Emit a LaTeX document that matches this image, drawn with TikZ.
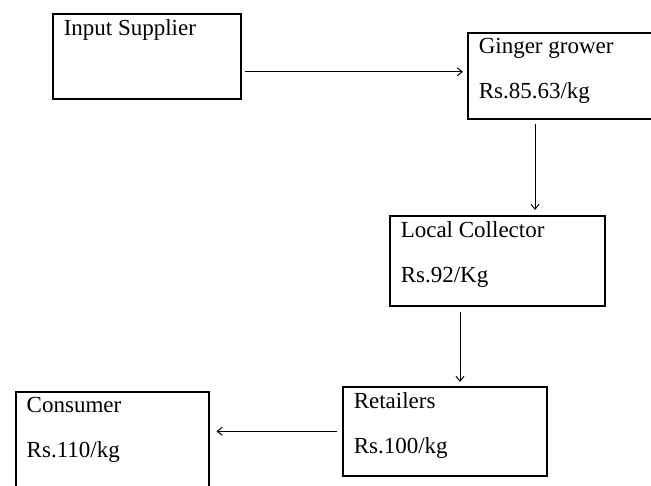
\documentclass[tikz,border=0pt]{standalone}
\usepackage{fontspec}
\setmainfont{Liberation Serif}
\usetikzlibrary{arrows.meta,positioning,calc}

\newcommand{\stagetext}[3]{\parbox[t][#1][t]{#2}{#3}}

\begin{document}
\begin{tikzpicture}[x=1pt,y=-1pt,
    stage/.style={draw,line width=1.5pt,anchor=north west,inner xsep=11pt,inner ysep=6pt,
      font=\fontsize{23}{45}\selectfont},
    flow/.style={-{Straight Barb[length=5pt,width=8pt]},line width=1pt}]
      \useasboundingbox (0,0) rectangle (651,485);
      \clip (0,0) rectangle (651,485);

      % Stages of the channel
      \node[stage] (inp) at (52,13) {\stagetext{73pt}{166pt}{Input Supplier}};
      \node[stage] (grow) at (467,32) {\stagetext{74pt}{178pt}{Ginger grower\\Rs.85.63/kg}};
      \node[stage] (coll) at (389,215) {\stagetext{78pt}{193pt}{Local Collector\\Rs.92/Kg}};
      \node[stage] (ret) at (342,386) {\stagetext{77pt}{182pt}{Retailers\\Rs.100/kg}};
      \node[stage] (cons) at (15,391) {\stagetext{98pt}{171pt}{Consumer\\Rs.110/kg}};

      % Flow of the produce
      \coordinate (a1) at ([xshift=3pt,yshift=-15.5pt]inp.east);
      \draw[flow,shorten >=4pt] (a1) -- (a1 -| grow.west);
      \draw[flow] ([xshift=68pt,yshift=-4pt]grow.south west) -- ([xshift=146pt,yshift=5pt]coll.north west);
      \draw[flow] ([xshift=71pt,yshift=-5pt]coll.south west) -- ([xshift=118pt,yshift=4pt]ret.north west);
      \draw[flow,shorten >=7pt] ([xshift=-5pt]ret.west) -- (ret.west -| cons.east);
    \end{tikzpicture}
\end{document}
